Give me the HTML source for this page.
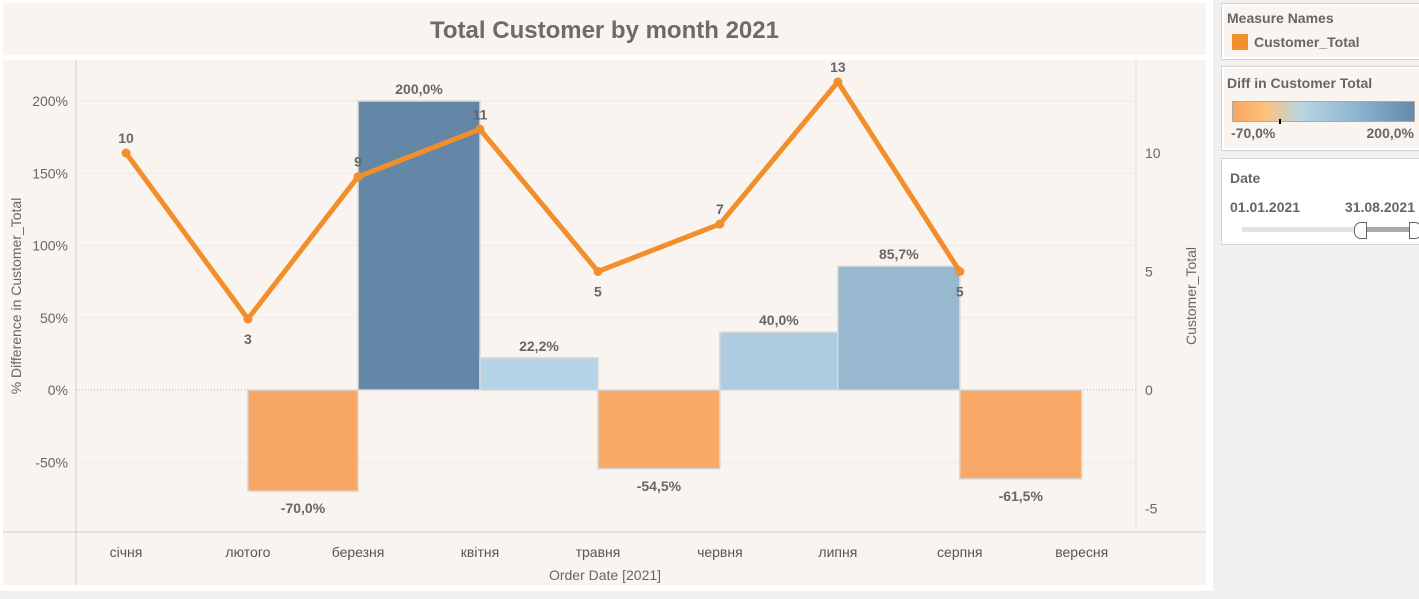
<!DOCTYPE html>
<html><head><meta charset="utf-8"><style>
body{margin:0;width:1419px;height:599px;background:#fff;font-family:"Liberation Sans",sans-serif;position:relative;overflow:hidden}
.abs{position:absolute}
.panel{position:absolute;border:1px solid #d4d4d4;background:#fff}
.ptitle{font-weight:bold;color:#666;font-size:14px}
</style></head><body>
<div class="abs" style="left:0;top:591px;width:1419px;height:8px;background:#f0f0f0"></div>
<div class="abs" style="left:1213px;top:0;width:206px;height:591px;background:#f0f0f0"></div>
<div class="abs" style="left:3px;top:3px;width:1203px;height:52px;background:#f9f4f0;text-align:center;line-height:55px;font-size:24px;font-weight:bold;color:#6b6b6b">Total Customer by month 2021</div>
<svg class="abs" style="left:0;top:0" width="1213" height="591" id="chart"></svg>

<div class="panel" style="left:1221px;top:3px;width:198px;height:55px">
 <div class="abs" style="left:2px;top:2px;right:0;bottom:2px;background:#f9f4f0"></div>
 <div class="abs ptitle" style="left:5px;top:6px">Measure Names</div>
 <div class="abs" style="left:10px;top:30px;width:16px;height:16px;background:#f28e2b"></div>
 <div class="abs ptitle" style="left:32px;top:30px">Customer_Total</div>
</div>
<div class="panel" style="left:1221px;top:66px;width:198px;height:83px">
 <div class="abs" style="left:2px;top:2px;right:0;bottom:2px;background:#f9f4f0"></div>
 <div class="abs ptitle" style="left:5px;top:8px">Diff in Customer Total</div>
 <div class="abs" style="left:10px;top:34px;width:181px;height:19px;border:1px solid #aaa;background:linear-gradient(90deg,#f7a65f,#fcc17e 18%,#b7d6e6 38%,#93b8d3 65%,#6489aa)"></div>
 <div class="abs" style="left:57px;top:52px;width:2px;height:5px;background:#000"></div>
 <div class="abs ptitle" style="left:9px;top:58px">-70,0%</div>
 <div class="abs ptitle" style="right:6px;top:58px">200,0%</div>
</div>
<div class="panel" style="left:1221px;top:158px;width:198px;height:85px">
 <div class="abs ptitle" style="left:8px;top:11px">Date</div>
 <div class="abs ptitle" style="left:8px;top:40px">01.01.2021</div>
 <div class="abs ptitle" style="right:5px;top:40px">31.08.2021</div>
 <div class="abs" style="left:20px;top:68px;width:170px;height:5px;background:#e3e3e3"></div>
 <div class="abs" style="left:140px;top:68px;width:50px;height:5px;background:#aaa"></div>
 <div class="abs" style="left:132px;top:63px;width:11px;height:15px;border:1px solid #666;border-radius:7px 0 0 7px;background:#fff"></div>
 <div class="abs" style="left:187px;top:63px;width:11px;height:15px;border:1px solid #666;border-radius:0 7px 7px 0;background:#fff"></div>
</div>

<script>
const months=["січня","лютого","березня","квітня","травня","червня","липня","серпня","вересня"];
const monthStartDay=[0,31,59,90,120,151,181,212,243];
const customers=[10,3,9,11,5,7,13,5];
const pctDiff=[null,-70.0,200.0,22.2,-54.5,40.0,85.7,-61.5];
const leftTicks=[-50,0,50,100,150,200];
const rightTicks=[-5,0,5,10];

const NS="http://www.w3.org/2000/svg";
const svg=document.getElementById('chart');
function mk(t,a,p){const e=document.createElementNS(NS,t);for(const k in a)e.setAttribute(k,a[k]);(p||svg).appendChild(e);return e;}
const plotL=76,plotR=1136,plotT=60,plotB=532;
const yL=v=>390-v*1.445;
const yR=v=>390-v*23.7;
const xD=d=>126+d*3.933;
const xM=i=>xD(monthStartDay[i]);
function color(v){
 if(v<0){const t=(v+70)/70;const a=[247,166,100],b=[252,186,115];return `rgb(${a.map((c,k)=>Math.round(c+(b[k]-c)*t)).join(',')})`;}
 const t=Math.max(0,Math.min((v-22)/178,1));
 const a=[181,212,231],b=[100,135,167];return `rgb(${a.map((c,k)=>Math.round(c+(b[k]-c)*t)).join(',')})`;
}
let bg=mk('rect',{x:3,y:60,width:1203,height:525,fill:'#f9f4f0'});


mk('line',{x1:plotL,y1:60,x2:plotL,y2:585,stroke:'#d0d0d0'});
mk('line',{x1:3,y1:plotB,x2:1206,y2:plotB,stroke:'#d0d0d0'});
mk('line',{x1:plotR,y1:60,x2:plotR,y2:plotB,stroke:'#e6e0da'});
leftTicks.forEach(v=>{
 const y=yL(v);
 if(v!==0)mk('line',{x1:plotL,y1:y,x2:plotR,y2:y,stroke:'#f0eae4'});
 const t=mk('text',{x:68,y:y+5,'text-anchor':'end','font-size':14,fill:'#666'});
 t.textContent=v+'%';
 
 
});
mk('line',{x1:plotL,y1:yL(0),x2:plotR,y2:yL(0),stroke:'#bbb','stroke-dasharray':'1,2'});
rightTicks.forEach(v=>{
 const t=mk('text',{x:1145,y:yR(v)+5,'font-size':14,fill:'#666'});
 t.textContent=v;
 
 
});
let yt=mk('text',{x:0,y:0,transform:'translate(21,296) rotate(-90)','text-anchor':'middle','font-size':14,fill:'#666'});
yt.textContent='% Difference in Customer_Total';


let yt2=mk('text',{x:0,y:0,transform:'translate(1196,296) rotate(-90)','text-anchor':'middle','font-size':14,fill:'#666'});
yt2.textContent='Customer_Total';


let xt=mk('text',{x:605,y:580,'text-anchor':'middle','font-size':14,fill:'#666'});
xt.textContent='Order Date [2021]';


months.forEach((m,i)=>{
 const t=mk('text',{x:xM(i),y:557,'text-anchor':'middle','font-size':14,fill:'#555'});
 t.textContent=m;
 
 
});
pctDiff.forEach((v,i)=>{
 if(v===null)return;
 const x0=xM(i),x1=xM(i+1),y0=yL(0),y1=yL(v);
 const r=mk('rect',{x:x0,y:Math.min(y0,y1),width:x1-x0,height:Math.abs(y1-y0),fill:color(v),stroke:'#d8d8d8','stroke-width':1.5});
 
 
 const t=mk('text',{x:(x0+x1)/2,y:v>=0?y1-7:y1+22,'text-anchor':'middle','font-size':14,'font-weight':'bold',fill:'#666'});
 t.textContent=v.toFixed(1).replace('.',',')+'%';
 
 
});
const pl=mk('polyline',{points:customers.map((v,i)=>xM(i)+','+yR(v)).join(' '),fill:'none',stroke:'#f28e2b','stroke-width':5,'stroke-linejoin':'round'});


customers.forEach((v,i)=>{
 const c=mk('circle',{cx:xM(i),cy:yR(v),r:4.5,fill:'#f28e2b'});
 
 
 const prev=i>0?customers[i-1]:-Infinity,next=i<customers.length-1?customers[i+1]:-Infinity;
 const above=(v>=prev&&v>=next)||(v>prev&&v<next);
 const t=mk('text',{x:xM(i),y:above?yR(v)-10:yR(v)+25,'text-anchor':'middle','font-size':14,'font-weight':'bold',fill:'#666'});
 t.textContent=v;
 
 
});
</script>
</body></html>
